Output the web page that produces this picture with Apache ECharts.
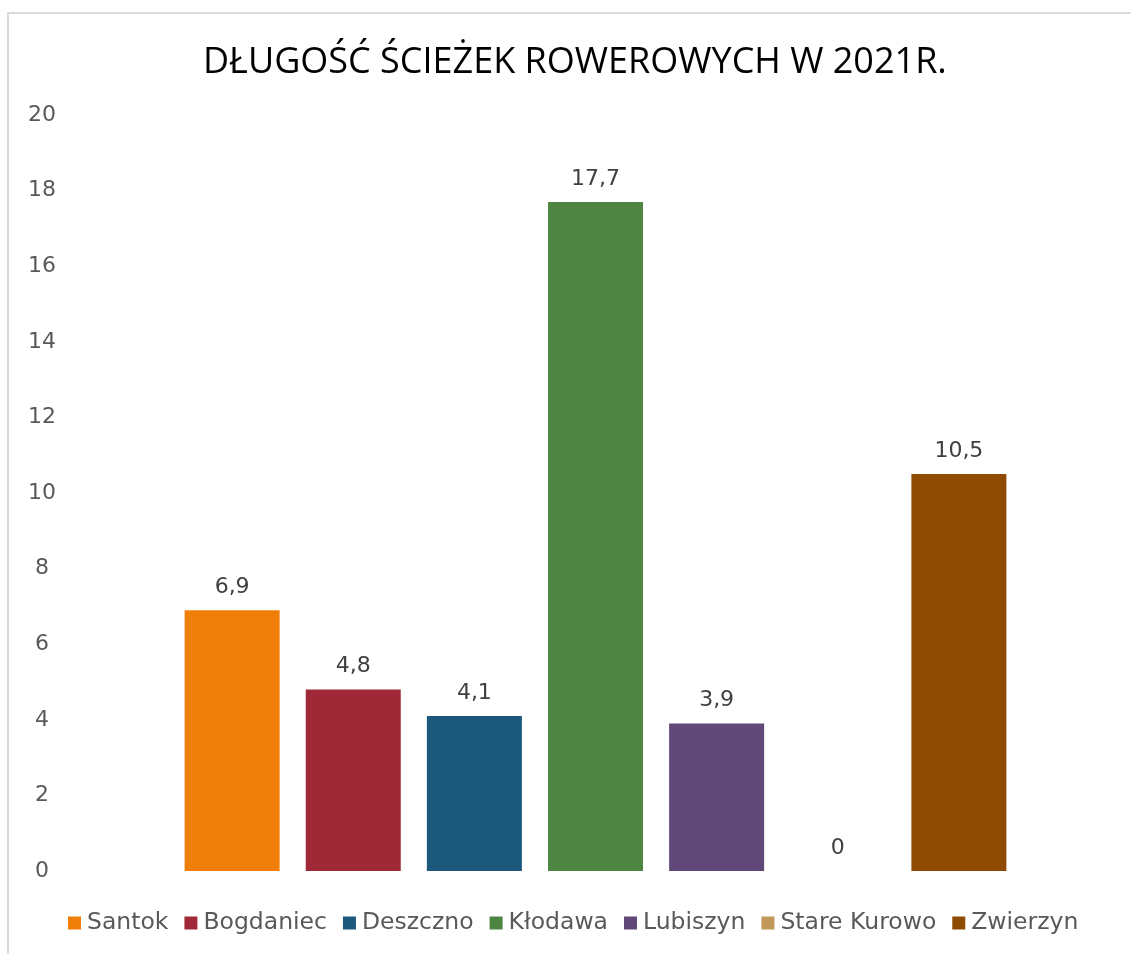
<!DOCTYPE html>
<html>
<head>
<meta charset="utf-8">
<script src="https://cdn.jsdelivr.net/npm/echarts@6/dist/echarts.min.js"></script>
<style>
  html, body { margin: 0; padding: 0; background: #fff; }
  #chart { width: 1131px; height: 954px; }
</style>
</head>
<body>
<div id="chart"></div>
<script>
// Bike path lengths (km) per commune, 2021
const gminy = ['Santok', 'Bogdaniec', 'Deszczno', 'Kłodawa', 'Lubiszyn', 'Stare Kurowo', 'Zwierzyn'];
const dlugosci = [6.9, 4.8, 4.1, 17.7, 3.9, 0, 10.5];
const kolory = ['#F07F09', '#9F2936', '#1B587C', '#4E8542', '#604878', '#C19859', '#8F4A04'];
const yTicks = { min: 0, max: 20, interval: 2 };

const chart = echarts.init(document.getElementById('chart'));

const series = gminy.map((name, i) => ({
  name: name,
  type: 'bar',
  data: [dlugosci[i]],
  barWidth: 95,
  barGap: '27.5%',
  itemStyle: { color: kolory[i] },
  label: {
    show: true,
    position: 'top',
    distance: 12,
    color: '#404040',
    fontFamily: 'DejaVu Sans',
    fontSize: 22,
    formatter: p => String(p.value).replace('.', ',')
  }
}));

chart.setOption({
  animation: false,
  color: kolory,
  title: {
    text: 'DŁUGOŚĆ ŚCIEŻEK ROWEROWYCH W 2021R.',
    left: 198,
    top: 40,
    textStyle: {
      fontFamily: 'Open Sans',
      fontWeight: 'normal',
      fontSize: 36,
      color: '#000'
    }
  },
  graphic: [{
    type: 'rect',
    silent: true,
    shape: { x: 8, y: 13, width: 1200, height: 1000 },
    style: { fill: 'none', stroke: '#d9d9d9', lineWidth: 2 }
  }],
  legend: {
    bottom: 14,
    left: 63,
    itemWidth: 13,
    itemHeight: 13,
    itemGap: 16,
    icon: 'rect',
    textStyle: {
      fontFamily: 'DejaVu Sans',
      fontSize: 23.5,
      color: '#595959',
      padding: [0, 0, 0, 1]
    },
    data: gminy
  },
  grid: { left: 170, right: 110, top: 115, bottom: 83 },
  xAxis: {
    type: 'category',
    data: [''],
    axisLine: { show: false },
    axisTick: { show: false },
    axisLabel: { show: false }
  },
  yAxis: {
    type: 'value',
    min: yTicks.min,
    max: yTicks.max,
    interval: yTicks.interval,
    splitLine: { show: false },
    axisLine: { show: false },
    axisTick: { show: false },
    axisLabel: {
      align: 'center',
      margin: 128,
      color: '#595959',
      fontFamily: 'DejaVu Sans',
      fontSize: 22
    }
  },
  series: series
});
</script>
</body>
</html>
